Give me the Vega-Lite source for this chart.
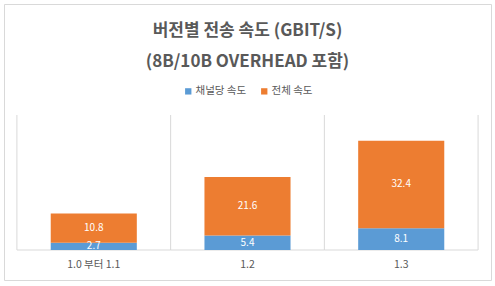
{
  "$schema": "https://vega.github.io/schema/vega-lite/v6.json",
  "autosize": "none",
  "padding": {"left": 4, "top": 4, "right": 4, "bottom": 6},
  "width": 487,
  "height": 276,
  "background": "white",
  "config": {
    "view": {"stroke": "#d9d9d9", "strokeWidth": 1},
    "font": "Noto Sans CJK KR"
  },
  "title": {
    "text": ["버전별 전송 속도 (GBIT/S)", "(8B/10B OVERHEAD 포함)"],
    "anchor": "middle",
    "frame": "group",
    "fontSize": 17,
    "fontWeight": "bold",
    "color": "#595959",
    "lineHeight": 31,
    "baseline": "top",
    "offset": 0,
    "dy": 67
  },
  "data": {
    "values": [
      {"version": "1.0 부터 1.1", "series": "채널당 속도", "value": 2.7},
      {"version": "1.0 부터 1.1", "series": "전체 속도", "value": 10.8},
      {"version": "1.2", "series": "채널당 속도", "value": 5.4},
      {"version": "1.2", "series": "전체 속도", "value": 21.6},
      {"version": "1.3", "series": "채널당 속도", "value": 8.1},
      {"version": "1.3", "series": "전체 속도", "value": 32.4}
    ]
  },
  "transform": [
    {"stack": "value", "groupby": ["version"], "sort": [{"field": "series", "order": "descending"}], "as": ["y0", "y1"]}
  ],
  "encoding": {
    "x": {
      "field": "version",
      "type": "nominal",
      "sort": null,
      "scale": {"paddingInner": 0, "paddingOuter": 0.084},
      "axis": null
    }
  },
  "resolve": {"scale": {"y": "shared"}},
  "layer": [
    {
      "transform": [{"filter": "datum.series === '채널당 속도'"}],
      "mark": {"type": "rule", "color": "#d9d9d9", "strokeWidth": 1},
      "encoding": {
        "x": {"field": "version", "type": "nominal", "sort": null, "bandPosition": 0},
        "y": {"datum": 0, "type": "quantitative", "scale": {"domain": [-11.11, 91.11], "nice": false, "zero": false}, "axis": null},
        "y2": {"datum": 50}
      }
    },
    {
      "transform": [{"filter": "datum.version === '1.3' && datum.series === '채널당 속도'"}],
      "mark": {"type": "rule", "color": "#d9d9d9", "strokeWidth": 1},
      "encoding": {
        "x": {"field": "version", "type": "nominal", "sort": null, "bandPosition": 1},
        "y": {"datum": 0, "type": "quantitative"},
        "y2": {"datum": 50}
      }
    },
    {
      "transform": [{"filter": "datum.series === '채널당 속도'"}],
      "mark": {"type": "rule", "color": "#d9d9d9", "strokeWidth": 1},
      "encoding": {
        "x": {"field": "version", "type": "nominal", "sort": null, "bandPosition": 0},
        "x2": {"field": "version", "bandPosition": 1},
        "y": {"datum": 0, "type": "quantitative"}
      }
    },
    {
      "mark": {"type": "bar", "width": {"band": 0.56}},
      "encoding": {
        "y": {"field": "y0", "type": "quantitative"},
        "y2": {"field": "y1"},
        "color": {
          "field": "series",
          "type": "nominal",
          "scale": {"domain": ["채널당 속도", "전체 속도"], "range": ["#5b9bd5", "#ed7d31"]},
          "legend": {
            "orient": "none",
            "legendX": 179,
            "legendY": 82,
            "direction": "horizontal",
            "title": null,
            "symbolType": "square",
            "symbolSize": 40,
            "symbolStrokeWidth": 0,
            "symbolOpacity": 1,
            "labelFontSize": 10.5,
            "labelColor": "#595959",
            "labelOffset": 2,
            "columnPadding": 12
          }
        }
      }
    },
    {
      "transform": [{"fold": ["y0", "y1"], "as": ["edge", "pos"]}],
      "mark": {"type": "text", "color": "white", "fontSize": 10, "baseline": "middle"},
      "encoding": {
        "y": {"aggregate": "mean", "field": "pos", "type": "quantitative"},
        "text": {"field": "value", "type": "quantitative", "format": ".1f"},
        "detail": {"field": "series"}
      }
    },
    {
      "transform": [{"filter": "datum.series === '채널당 속도'"}],
      "mark": {"type": "text", "color": "#595959", "fontSize": 10.5, "baseline": "middle"},
      "encoding": {
        "y": {"datum": -5.6, "type": "quantitative"},
        "text": {"field": "version"}
      }
    }
  ]
}
